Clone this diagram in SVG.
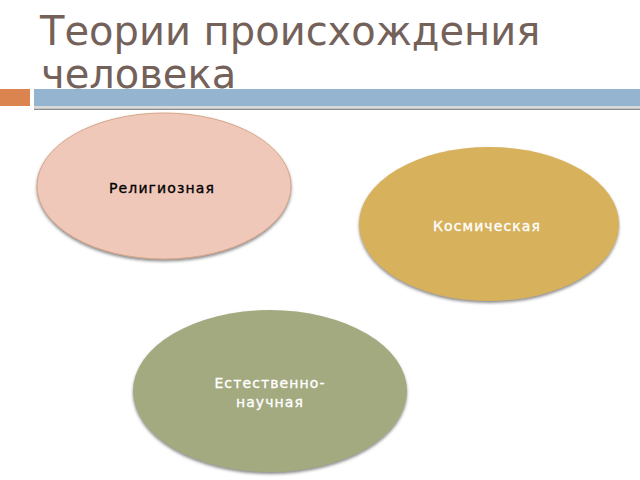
<svg xmlns="http://www.w3.org/2000/svg" width="640" height="480" viewBox="0 0 640 480">
<defs>
<filter id="sh" x="-10%" y="-10%" width="120%" height="130%">
<feGaussianBlur in="SourceAlpha" stdDeviation="1.5"/>
<feOffset dx="0" dy="2" result="b"/>
<feFlood flood-color="#6f6f6f" flood-opacity="0.8"/>
<feComposite in2="b" operator="in" result="s"/>
<feMerge><feMergeNode in="s"/><feMergeNode in="SourceGraphic"/></feMerge>
</filter>
<style>
.title{font-family:"DejaVu Sans","Liberation Sans",sans-serif;font-size:40px;fill:#74615A}
.lbl{font-family:"DejaVu Sans","Liberation Sans",sans-serif;font-size:14px;text-anchor:middle;letter-spacing:1.1px;stroke-width:0.35px}
.dk{fill:#000000;stroke:#000000}
.wt{fill:#ffffff;stroke:#ffffff}
</style>
</defs>
<rect width="640" height="480" fill="#ffffff"/>
<g id="title">
<text class="title" x="40" y="45">Теории происхождения</text>
<text class="title" x="41" y="88">человека</text>
</g>
<g id="bars">
<rect x="0" y="89" width="30" height="17" fill="#DC8450"/>
<rect x="34" y="89" width="606" height="17" fill="#94B4D0"/>
<rect x="34" y="106.5" width="606" height="1" fill="#b4b4b4"/>
<rect x="34" y="108.5" width="606" height="1.5" fill="#8c8c8c"/>
</g>
<g id="connectors"></g>
<g id="n1">
<ellipse cx="164" cy="186" rx="127" ry="73" fill="#F0C8BA" stroke="#D8A688" stroke-width="1" filter="url(#sh)"/>
<text class="lbl dk" x="162" y="193">Религиозная</text>
</g>
<g id="n2">
<ellipse cx="489" cy="224" rx="130" ry="77" fill="#D8B15C" filter="url(#sh)"/>
<text class="lbl wt" x="487" y="231">Космическая</text>
</g>
<g id="n3">
<ellipse cx="270" cy="391" rx="137" ry="81" fill="#A3AA7F" filter="url(#sh)"/>
<text class="lbl wt" x="270" y="388">Естественно-</text>
<text class="lbl wt" x="270" y="407">научная</text>
</g>
</svg>
